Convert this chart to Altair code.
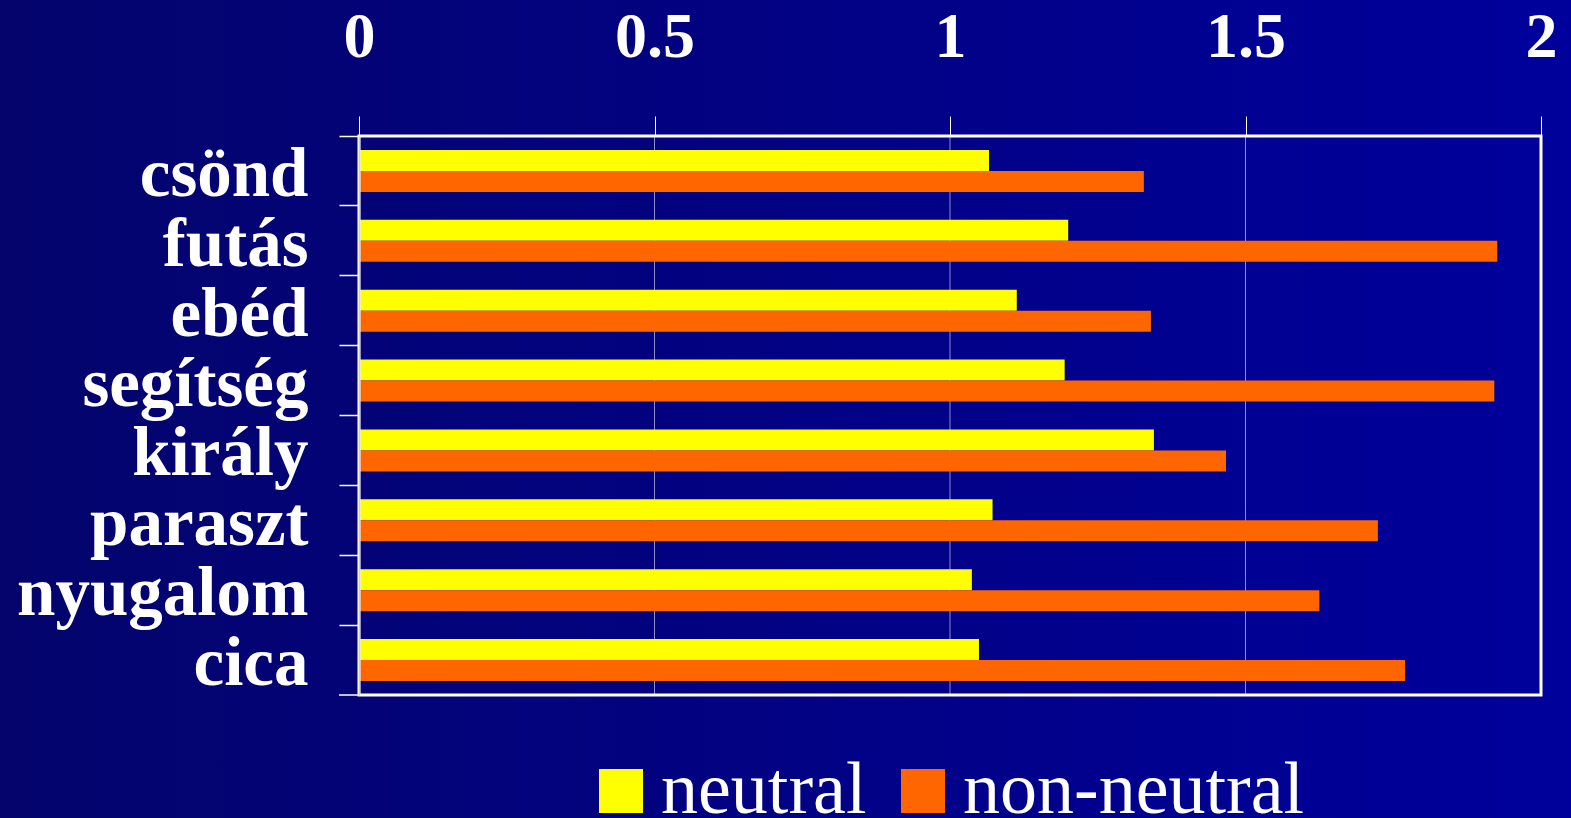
import altair as alt
import pandas as pd

# Words (top to bottom) and mean values for the two conditions
words = ["csönd", "futás", "ebéd", "segítség", "király", "paraszt", "nyugalom", "cica"]
neutral = [1.066, 1.200, 1.113, 1.194, 1.345, 1.072, 1.037, 1.049]
non_neutral = [1.328, 1.926, 1.340, 1.921, 1.467, 1.724, 1.625, 1.770]
series = ["neutral", "non-neutral"]
colors = ["#FFFF00", "#FF6600"]
x_ticks = [0, 0.5, 1, 1.5, 2]

rows = []
for w, a, b in zip(words, neutral, non_neutral):
    rows.append({"word": w, "series": series[0], "value": a})
    rows.append({"word": w, "series": series[1], "value": b})
df = pd.DataFrame(rows)
grid_df = pd.DataFrame({"value": x_ticks})

W, H = 1182, 559
PAD = {"left": 359, "top": 136, "right": 30, "bottom": 123}
SERIF = "Liberation Serif"
one_row = alt.Data(values=[{"k": 0}])

x_scale = alt.Scale(domain=[0, 2], nice=False, zero=True)
x_axis = alt.Axis(
    title=None, orient="top", values=x_ticks, format="~g",
    grid=False, domain=False, tickSize=20, tickColor="white",
    tickWidth=1, labelPadding=47, labelFont=SERIF, labelFontSize=64,
    labelFontWeight="bold", labelColor="white", labelFlush=False,
    labelOverlap=False, labelBound=False, zindex=1,
)

# Full-canvas blue gradient behind everything
background = alt.Chart(one_row).mark_rect(
    fill=alt.Gradient(
        gradient="linear",
        stops=[alt.GradientStop(color="#04046c", offset=0),
               alt.GradientStop(color="#00009c", offset=1)],
        x1=0, x2=1, y1=0, y2=0,
    )
).encode(
    x=alt.value(-PAD["left"]), x2=alt.value(W + PAD["right"]),
    y=alt.value(-PAD["top"]), y2=alt.value(H + PAD["bottom"]),
)

# Vertical gridlines at the tick values
grid = alt.Chart(grid_df).mark_rule(color="white", opacity=0.55, strokeWidth=1).encode(
    x=alt.X("value:Q", scale=x_scale, axis=x_axis)
)

bars = alt.Chart(df).mark_bar().encode(
    y=alt.Y(
        "word:N", sort=words,
        scale=alt.Scale(paddingInner=0, paddingOuter=0),
        axis=alt.Axis(
            title=None, orient="left", bandPosition=0, labelOffset=4,
            tickSize=20, tickColor="white", tickWidth=1.5,
            domainColor="#d0d0e8", domainWidth=1.5,
            labelPadding=31, labelFont=SERIF, labelFontSize=69,
            labelFontWeight="bold", labelColor="white", labelLimit=0,
            zindex=1,
        ),
    ),
    yOffset=alt.YOffset(
        "series:N", sort=series,
        scale=alt.Scale(paddingInner=0, paddingOuter=0.667),
    ),
    x=alt.X("value:Q", scale=x_scale, axis=x_axis),
    color=alt.Color(
        "series:N",
        scale=alt.Scale(domain=series, range=colors),
        legend=alt.Legend(
            title=None, orient="none", direction="horizontal",
            legendX=225, legendY=618, padding=0,
            symbolType="square", symbolSize=1936, symbolStrokeWidth=0,
            symbolOpacity=1, labelFont=SERIF, labelFontSize=74,
            labelColor="white", labelOffset=3, columnPadding=19,
            labelLimit=0,
        ),
    ),
)

# White frame around the plot area
frame = alt.Chart(one_row).mark_rect(
    filled=False, stroke="white", strokeWidth=3
).encode(
    x=alt.value(0), x2=alt.value(W), y=alt.value(0), y2=alt.value(H)
)

# Closing tick at the bottom of the category axis
bottom_tick = alt.Chart(one_row).mark_rule(color="white", strokeWidth=1.5).encode(
    x=alt.value(-20), x2=alt.value(0), y=alt.value(H)
)

chart = alt.layer(background, grid, bars, frame, bottom_tick).properties(
    width=W, height=H,
    autosize=alt.AutoSizeParams(type="none"),
    padding=PAD,
).configure(background="#020280").configure_view(stroke=None)

chart.save("out.html", embed_options={"renderer": "svg", "actions": False})
